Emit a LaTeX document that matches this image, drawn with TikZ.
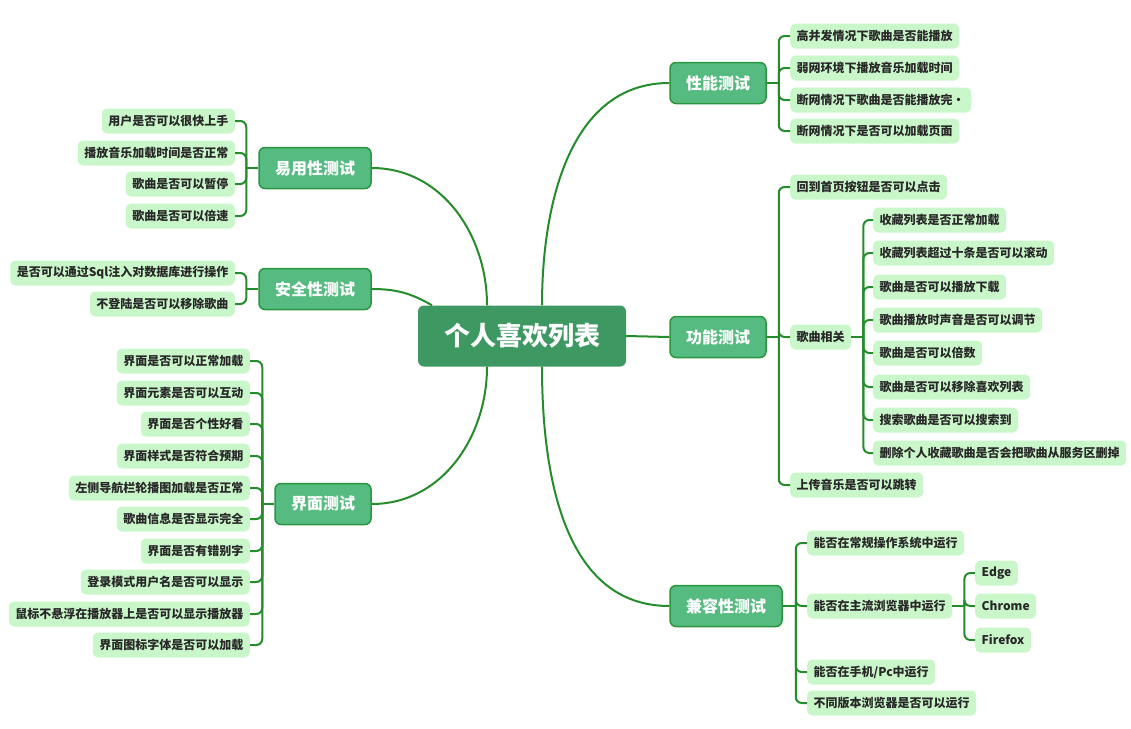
\documentclass[tikz,border=0pt]{standalone}
\usepackage{fontspec}
\setmainfont{Noto Sans CJK SC}
\usetikzlibrary{calc}
\definecolor{leafc}{RGB}{202,247,202}
\definecolor{mainc}{RGB}{86,187,128}
\definecolor{mainb}{RGB}{42,150,62}
\definecolor{rootc}{RGB}{62,152,98}
\definecolor{linec}{RGB}{36,140,42}
\definecolor{txt}{RGB}{40,40,40}
\tikzset{
  leaf/.style={fill=leafc, rounded corners=5pt, inner xsep=6.5pt, inner ysep=0pt, minimum height=25pt, font=\fontsize{12}{12}\selectfont\bfseries, text=txt},
  lleaf/.style={leaf, anchor=east},
  rleaf/.style={leaf, anchor=west},
  mainnode/.style={fill=mainc, draw=mainb, line width=1.5pt, rounded corners=6pt, minimum height=41pt, inner xsep=16pt, inner ysep=0pt, font=\fontsize{16}{16}\selectfont\bfseries, text=white},
  rootnode/.style={fill=rootc, rounded corners=6pt, minimum height=61pt, inner xsep=26pt, inner ysep=0pt, font=\fontsize{26}{26}\selectfont\bfseries, text=white},
  conn/.style={draw=linec, line width=2pt, rounded corners=6pt},
  trunk/.style={draw=linec, line width=2pt}
}
\begin{document}
\begin{tikzpicture}[x=1pt,y=-1pt]
\useasboundingbox (0,0) rectangle (1131,728);
% root and main nodes
\node[rootnode] (root) at (522,336) {个人喜欢列表};
\node[mainnode] (eY) at (315,168) {易用性测试};
\node[mainnode] (eS) at (315,289) {安全性测试};
\node[mainnode] (eJ) at (323,504) {界面测试};
\node[mainnode] (eX) at (718,83) {性能测试};
\node[mainnode] (eG) at (718,337) {功能测试};
\node[mainnode] (eC) at (726,606) {兼容性测试};
% root connection points
\coordinate (rtl) at ([xshift=-35pt]root.north);
\coordinate (rtr) at ([xshift=20pt]root.north);
\coordinate (rbl) at ([xshift=-35pt]root.south);
\coordinate (rbr) at ([xshift=20pt]root.south);
\coordinate (rcl) at ([xshift=-90pt]root.north);
\draw[trunk] (eY.east) to[out=0,in=90] (rtl);
\draw[trunk] (eS.east) to[out=0,in=150] (rcl);
\draw[trunk] (eJ.east) to[out=0,in=-90] (rbl);
\draw[trunk] (rtr) to[out=90,in=180] (eX.west);
\draw[trunk] (root.east) -- (eG.west);
\draw[trunk] (rbr) to[out=-90,in=180] (eC.west);
% leaves: 易用性
\node[lleaf] (y1) at (235,121) {用户是否可以很快上手};
\node[lleaf] (y2) at (235,153) {播放音乐加载时间是否正常};
\node[lleaf] (y3) at (235,184) {歌曲是否可以暂停};
\node[lleaf] (y4) at (235,216) {歌曲是否可以倍速};
\coordinate (jY) at ([xshift=-12pt]eY.west);
\draw[trunk] (eY.west) -- (jY);
\foreach \c in {y1,y2,y3,y4} \draw[conn] (jY) |- (\c.east);
% 安全性
\node[lleaf] (s1) at (235,273) {是否可以通过Sql注入对数据库进行操作};
\node[lleaf] (s2) at (235,304) {不登陆是否可以移除歌曲};
\coordinate (jS) at ([xshift=-12pt]eS.west);
\draw[trunk] (eS.west) -- (jS);
\foreach \c in {s1,s2} \draw[conn] (jS) |- (\c.east);
% 界面测试
\node[lleaf] (j1) at (250,361) {界面是否可以正常加载};
\node[lleaf] (j2) at (250,393) {界面元素是否可以互动};
\node[lleaf] (j3) at (250,424) {界面是否个性好看};
\node[lleaf] (j4) at (250,456) {界面样式是否符合预期};
\node[lleaf] (j5) at (250,488) {左侧导航栏轮播图加载是否正常};
\node[lleaf] (j6) at (250,519) {歌曲信息是否显示完全};
\node[lleaf] (j7) at (250,551) {界面是否有错别字};
\node[lleaf] (j8) at (250,582) {登录模式用户名是否可以显示};
\node[lleaf] (j9) at (250,614) {鼠标不悬浮在播放器上是否可以显示播放器};
\node[lleaf] (j10) at (250,645) {界面图标字体是否可以加载};
\coordinate (jJ) at ([xshift=-12pt]eJ.west);
\draw[trunk] (eJ.west) -- (jJ);
\foreach \c in {j1,j2,j3,j4,j5,j6,j7,j8,j9,j10} \draw[conn] (jJ) |- (\c.east);
% 性能测试
\node[rleaf] (x1) at (790,36) {高并发情况下歌曲是否能播放};
\node[rleaf] (x2) at (790,68) {弱网环境下播放音乐加载时间};
\node[rleaf] (x3) at (790,100) {断网情况下歌曲是否能播放完•};
\node[rleaf] (x4) at (790,131) {断网情况下是否可以加载页面};
\coordinate (jX) at ([xshift=12pt]eX.east);
\draw[trunk] (eX.east) -- (jX);
\foreach \c in {x1,x2,x3,x4} \draw[conn] (jX) |- (\c.west);
% 功能测试
\node[rleaf] (g1) at (790,187) {回到首页按钮是否可以点击};
\node[rleaf] (g2) at (790,337) {歌曲相关};
\node[rleaf] (g3) at (790,485) {上传音乐是否可以跳转};
\coordinate (jG) at ([xshift=12pt]eG.east);
\draw[trunk] (eG.east) -- (jG);
\foreach \c in {g1,g2,g3} \draw[conn] (jG) |- (\c.west);
\node[rleaf] (h1) at (873,220) {收藏列表是否正常加载};
\node[rleaf] (h2) at (873,253) {收藏列表超过十条是否可以滚动};
\node[rleaf] (h3) at (873,287) {歌曲是否可以播放下载};
\node[rleaf] (h4) at (873,320) {歌曲播放时声音是否可以调节};
\node[rleaf] (h5) at (873,353) {歌曲是否可以倍数};
\node[rleaf] (h6) at (873,387) {歌曲是否可以移除喜欢列表};
\node[rleaf] (h7) at (873,420) {搜索歌曲是否可以搜索到};
\node[rleaf] (h8) at (873,453) {删除个人收藏歌曲是否会把歌曲从服务区删掉};
\coordinate (jH) at ([xshift=12pt]g2.east);
\draw[trunk] (g2.east) -- (jH);
\foreach \c in {h1,h2,h3,h4,h5,h6,h7,h8} \draw[conn] (jH) |- (\c.west);
% 兼容性测试
\node[rleaf] (c1) at (807,543) {能否在常规操作系统中运行};
\node[rleaf] (c2) at (807,606) {能否在主流浏览器中运行};
\node[rleaf] (c3) at (807,672) {能否在手机/Pc中运行};
\node[rleaf] (c4) at (807,703) {不同版本浏览器是否可以运行};
\coordinate (jC) at ([xshift=13pt]eC.east);
\draw[trunk] (eC.east) -- (jC);
\foreach \c in {c1,c2,c3,c4} \draw[conn] (jC) |- (\c.west);
\node[rleaf] (b1) at (975,573) {Edge};
\node[rleaf] (b2) at (975,606) {Chrome};
\node[rleaf] (b3) at (975,640) {Firefox};
\coordinate (jB) at ([xshift=12pt]c2.east);
\draw[trunk] (c2.east) -- (jB);
\foreach \c in {b1,b2,b3} \draw[conn] (jB) |- (\c.west);
\end{tikzpicture}
\end{document}
